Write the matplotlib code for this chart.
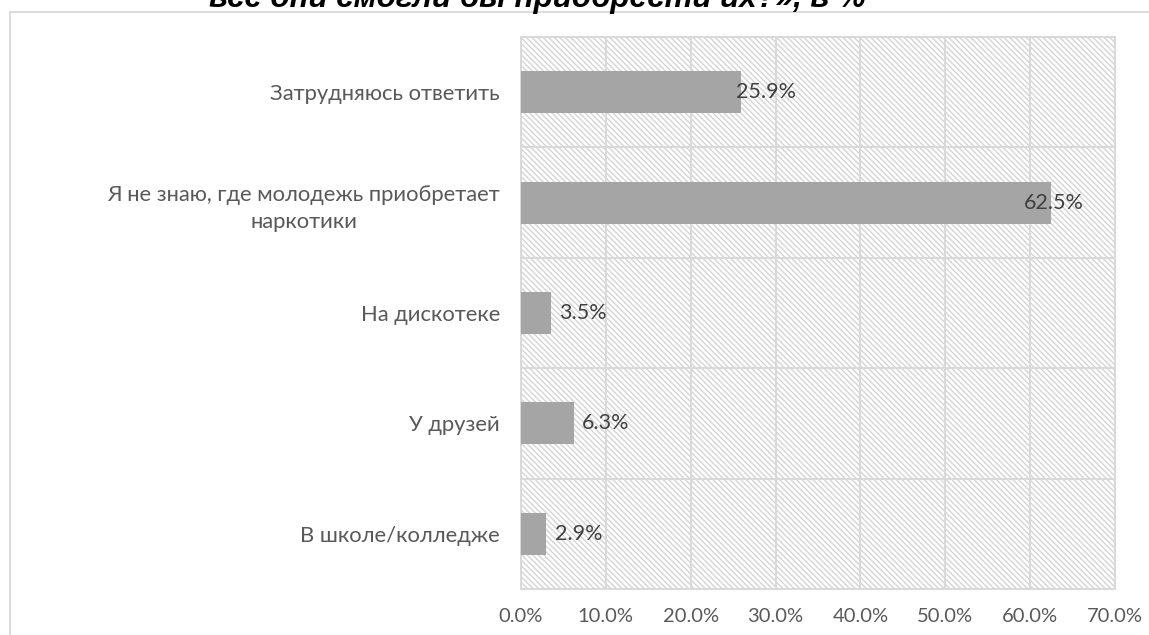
import matplotlib
matplotlib.use("Agg")
import matplotlib.pyplot as plt
from matplotlib.patches import Rectangle
from matplotlib.ticker import FuncFormatter
import matplotlib.transforms as mtransforms

categories = ["В школе/колледже", "У друзей", "На дискотеке",
              "Я не знаю, где молодежь приобретает\nнаркотики", "Затрудняюсь ответить"]
values = [2.9, 6.3, 3.5, 62.5, 25.9]
x_ticks = [0, 10, 20, 30, 40, 50, 60, 70]
title_text = "все они смогли бы приобрести их?», в %"

W, H = 1149, 635
plt.rcParams["hatch.linewidth"] = 1.0
fig = plt.figure(figsize=(W / 100, H / 100), dpi=100)
fig.patch.set_facecolor("white")

grid_c = "#d9d9d9"
txt_c = "#595959"
font = ["Lato", "DejaVu Sans"]

# outer chart border
fig.add_artist(Rectangle((10 / W, -0.1), 1.2, (H - 12) / H + 0.1, transform=fig.transFigure,
                         fill=False, edgecolor=grid_c, linewidth=1.3))

# title (cut at top)
fig.text(537 / W, 1 - 7 / H, title_text, ha="center", va="baseline",
         fontsize=22.5, fontweight="bold", fontstyle="italic",
         family=["Liberation Sans", "DejaVu Sans"], color="black")

left, right, top, bottom = 521, 1115, 37, 589
ax = fig.add_axes([left / W, 1 - bottom / H, (right - left) / W, (bottom - top) / H])
ax.set_facecolor("white")

bg = Rectangle((0, 0), 1, 1, transform=ax.transAxes, facecolor="white",
               edgecolor="#d4d4d4", hatch="\\\\\\\\\\\\", linewidth=0, zorder=0)
ax.add_patch(bg)

ypos = list(range(len(categories)))
ax.barh(ypos, values, height=0.38, color="#a5a5a5", zorder=3)

ax.set_xlim(0, 70)
ax.set_ylim(-0.5, len(categories) - 0.5)
ax.set_xticks(x_ticks)
ax.xaxis.set_major_formatter(FuncFormatter(lambda v, p: f"{v:.1f}%"))
ax.set_yticks(ypos)
ax.set_yticklabels(categories, ha="center", multialignment="center", linespacing=1.45)

for x in x_ticks:
    ax.axvline(x, color=grid_c, linewidth=1.4, zorder=1)
for b in range(len(categories) + 1):
    ax.axhline(b - 0.5, color=grid_c, linewidth=1.4, zorder=1)

for s in ax.spines.values():
    s.set_color(grid_c)
    s.set_linewidth(1.4)

ax.tick_params(axis="both", length=0, colors=txt_c)
ax.tick_params(axis="x", labelsize=14.5, pad=14)
ax.tick_params(axis="y", labelsize=15.8, pad=0)
for lab in ax.get_xticklabels():
    lab.set_family(font)
for lab in ax.get_yticklabels():
    lab.set_family(font)

# position y labels: right edge at x=500 px, center aligned
fig.canvas.draw()
renderer = fig.canvas.get_renderer()
for lab in ax.get_yticklabels():
    bb = lab.get_window_extent(renderer)
    shift = (500 - bb.x1)
    lab.set_transform(lab.get_transform() + mtransforms.Affine2D().translate(shift, 0))

for y, v in zip(ypos, values):
    ax.text(0.927 * v + 1.3, y, f"{v:.1f}%", ha="left", va="center",
            fontsize=15.5, color="#404040", family=font, zorder=4)

fig.savefig("out.png", dpi=100, facecolor="white")
